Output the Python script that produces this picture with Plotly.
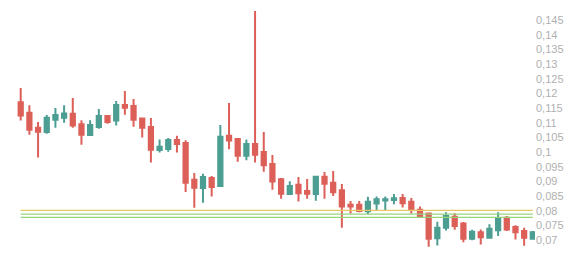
import plotly.graph_objects as go

opens = [0.1170, 0.1134, 0.1083, 0.1068, 0.1110, 0.1117, 0.1130, 0.1095, 0.1058, 0.1085,
         0.1123, 0.1107, 0.1160, 0.1157, 0.1114, 0.1085, 0.1007, 0.1010, 0.1041, 0.1031,
         0.0905, 0.0877, 0.0911, 0.0884, 0.1055, 0.1044, 0.0987, 0.1027, 0.1000, 0.0959,
         0.0907, 0.0857, 0.0888, 0.0867, 0.0857, 0.0916, 0.0895, 0.0870, 0.0820, 0.0820,
         0.0798, 0.0824, 0.0835, 0.0836, 0.0843, 0.0830, 0.0803, 0.0790, 0.0706, 0.0742,
         0.0779, 0.0756, 0.0704, 0.0726, 0.0708, 0.0733, 0.0776, 0.0744, 0.0731, 0.0704]
highs = [0.1218, 0.1159, 0.1102, 0.1126, 0.1150, 0.1159, 0.1184, 0.1108, 0.1108, 0.1147,
         0.1126, 0.1174, 0.1208, 0.1181, 0.1116, 0.1116, 0.1043, 0.1048, 0.1055, 0.1040,
         0.0928, 0.0926, 0.0918, 0.1092, 0.1167, 0.1048, 0.1043, 0.1481, 0.1068, 0.0990,
         0.0911, 0.0900, 0.0915, 0.0908, 0.0919, 0.0932, 0.0935, 0.0891, 0.0833, 0.0833,
         0.0847, 0.0848, 0.0848, 0.0857, 0.0857, 0.0843, 0.0814, 0.0791, 0.0762, 0.0795,
         0.0791, 0.0761, 0.0735, 0.0736, 0.0754, 0.0795, 0.0782, 0.0750, 0.0742, 0.0731]
lows = [0.1107, 0.1059, 0.0981, 0.1062, 0.1083, 0.1100, 0.1083, 0.1025, 0.1056, 0.1079,
        0.1096, 0.1090, 0.1127, 0.1086, 0.1049, 0.0964, 0.0998, 0.1001, 0.0998, 0.0864,
        0.0810, 0.0827, 0.0848, 0.0883, 0.1009, 0.0967, 0.0972, 0.0964, 0.0933, 0.0871,
        0.0841, 0.0854, 0.0831, 0.0841, 0.0834, 0.0841, 0.0850, 0.0742, 0.0790, 0.0795,
        0.0788, 0.0800, 0.0800, 0.0822, 0.0811, 0.0790, 0.0776, 0.0677, 0.0681, 0.0732,
        0.0735, 0.0692, 0.0699, 0.0685, 0.0704, 0.0714, 0.0731, 0.0702, 0.0680, 0.0702]
closes = [0.1124, 0.1076, 0.1069, 0.1117, 0.1126, 0.1131, 0.1090, 0.1059, 0.1092, 0.1123,
          0.1102, 0.1160, 0.1151, 0.1110, 0.1083, 0.1008, 0.1018, 0.1041, 0.1027, 0.0895,
          0.0878, 0.0915, 0.0881, 0.1052, 0.1039, 0.0987, 0.1027, 0.0991, 0.0955, 0.0899,
          0.0858, 0.0884, 0.0859, 0.0858, 0.0916, 0.0892, 0.0863, 0.0814, 0.0814, 0.0799,
          0.0830, 0.0839, 0.0839, 0.0842, 0.0825, 0.0802, 0.0782, 0.0704, 0.0742, 0.0782,
          0.0748, 0.0704, 0.0728, 0.0709, 0.0738, 0.0774, 0.0736, 0.0726, 0.0708, 0.0726]

level_values = [0.0801, 0.0788, 0.0777]
level_colors = ["#e8c765", "#96d47a", "#96d47a"]

tick_values = [0.07, 0.075, 0.08, 0.085, 0.09, 0.095, 0.1, 0.105, 0.11, 0.115,
               0.12, 0.125, 0.13, 0.135, 0.14, 0.145]
tick_labels = ["0,07", "0,075", "0,08", "0,085", "0,09", "0,095", "0,1", "0,105", "0,11",
               "0,115", "0,12", "0,125", "0,13", "0,135", "0,14", "0,145"]

idx = list(range(len(opens)))

fig = go.Figure()
for lv, lc in zip(level_values, level_colors):
    fig.add_trace(go.Scatter(x=[idx[0], idx[-1]], y=[lv, lv], mode="lines",
                             line=dict(color=lc, width=1.3), hoverinfo="skip",
                             showlegend=False))

fig.add_trace(go.Candlestick(
    x=idx, open=opens, high=highs, low=lows, close=closes,
    increasing=dict(line=dict(color="#4c9e92", width=2), fillcolor="#4c9e92"),
    decreasing=dict(line=dict(color="#dc5f58", width=2), fillcolor="#dc5f58"),
    whiskerwidth=0, showlegend=False,
))

fig.update_layout(
    width=584, height=258,
    margin=dict(l=0, r=49, t=0, b=0),
    paper_bgcolor="white", plot_bgcolor="white",
    showlegend=False,
    xaxis=dict(range=[-2.385, 59.25], showgrid=False, zeroline=False, showticklabels=False,
               showline=False, rangeslider=dict(visible=False), fixedrange=True),
    yaxis=dict(side="right", range=[0.06386, 0.15182], showgrid=False, zeroline=False,
               tickvals=tick_values, ticktext=tick_labels, ticks="",
               tickfont=dict(family="Liberation Sans, Arial", size=11, color="#b0b0b0"),
               showline=False, fixedrange=True),
)

fig.write_html("out.html")
